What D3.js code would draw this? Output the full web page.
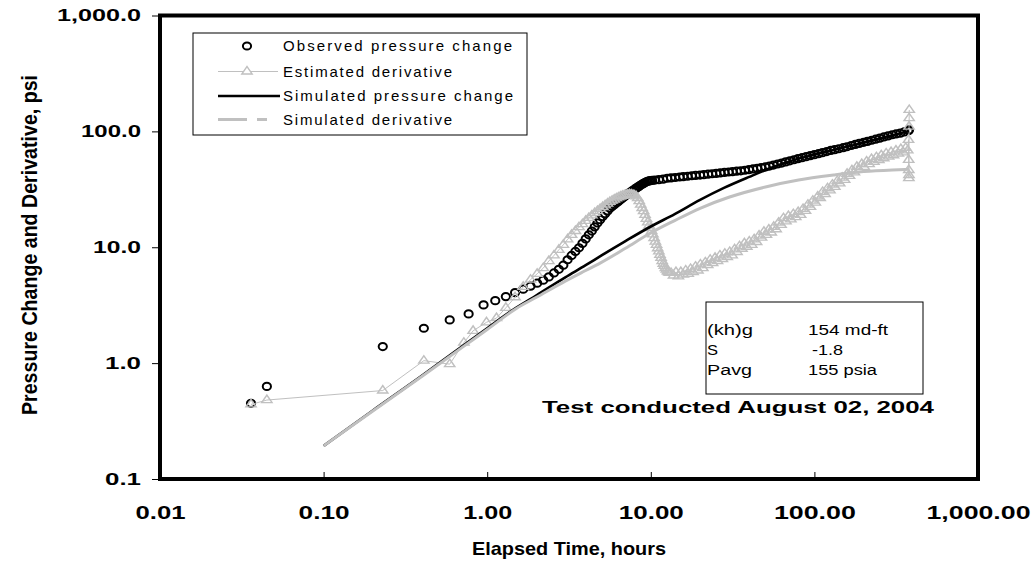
<!DOCTYPE html>
<html><head><meta charset="utf-8">
<script src="https://cdn.jsdelivr.net/npm/d3@7"></script>
<style>body{margin:0;background:#fff}svg{display:block}</style>
</head><body>
<svg id="c" width="1033" height="569"></svg>
<script>
// ---------- data ----------
const obsT = [0.036,0.045,0.23,0.41,0.59,0.77,0.95,1.12,1.30,1.48,1.66,1.84,2.02,2.20,2.38,2.56,2.74,2.92,3.10,3.28,3.46,3.64,3.82,4.00,4.18,4.36,4.54,4.72,4.90,5.08,5.26,5.44,5.62,5.80,5.98,6.16,6.34,6.52,6.70,6.88,7.06,7.24,7.42,7.60,7.78,7.96,8.14,8.32,8.50,8.68,8.86,9.04,9.22,9.40,9.58,9.76,9.94,
  10.2,10.6,11.2,11.9,12.6,13.3,14.1,15.0,15.8,16.8,17.8,18.8,20.0,21.1,22.4,23.7,25.1,26.6,28.2,29.9,31.6,33.5,35.5,37.6,39.8,42.2,44.7,47.3,50.1,53.1,56.2,59.6,63.1,66.8,70.8,75.0,79.4,84.1,89.1,94.4,100,106,112,119,126,133,141,150,158,168,178,188,200,211,224,237,251,266,282,299,316,335,355,376,378];
const obsP = [0.45,0.63,1.39,2.0,2.36,2.66,3.18,3.46,3.75,4.06,4.35,4.62,4.9,5.2,5.55,6.0,6.45,7.0,7.8,8.5,9.2,9.9,10.8,11.8,12.8,13.8,15.0,16.2,17.3,18.4,19.5,20.6,21.7,22.5,23.3,24.1,24.9,25.7,26.5,27.3,28.1,28.9,29.6,30.3,31.0,31.7,32.4,33.0,33.7,34.4,35.0,35.6,36.2,36.7,37.1,37.4,37.6,
  37.8,38.0,38.3,38.7,39.4,39.7,40.0,40.4,40.7,41.0,41.4,41.7,42.0,42.3,42.7,43.1,43.4,43.8,44.2,44.6,44.9,45.3,45.7,46.2,46.8,47.4,48.0,48.7,49.3,50.2,51.2,52.3,53.3,54.5,55.7,56.9,58.2,59.3,60.5,61.8,63.0,64.2,65.5,67.0,68.5,69.5,70.8,72.3,73.7,75.5,77.2,78.8,80.5,82.0,83.8,85.6,87.5,89.5,91.5,93.5,95.0,96.5,99.0,101.5,103];

const derT = [0.036,0.045,0.23,0.41,0.59,0.72,0.82,0.99,1.14,1.30,1.48,1.66,1.84,2.02,2.20,2.38,2.56,2.74,2.92,3.10,3.28,3.46,3.64,3.82,4.00,4.18,4.36,4.54,4.72,4.90,5.08,5.26,5.44,5.62,5.80,5.98,6.16,6.34,6.52,6.70,6.88,7.06,7.24,7.42,7.60,7.78,7.96,8.14,8.32,8.50,8.68,8.86,9.04,9.22,9.40,9.58,9.76,9.94,10.12,10.30,10.48,10.66,10.84,11.02,11.20,11.38,11.56,11.74,11.92,12.10,12.28,12.46,12.64,12.82,13.00,
  13.30,13.77,14.25,14.75,15.26,15.80,16.35,16.92,17.51,18.13,18.76,19.42,20.10,20.80,21.53,22.28,23.06,23.87,24.70,25.57,26.46,27.39,28.35,29.34,30.37,31.43,32.53,33.67,34.85,36.07,37.33,38.64,39.99,41.39,42.84,44.34,45.89,47.50,49.16,50.88,52.66,54.50,56.41,58.39,60.43,62.55,64.74,67.00,69.35,71.78,74.29,76.89,79.58,82.37,85.25,88.23,91.32,94.52,97.83,101.3,104.8,108.5,112.3,116.2,120.3,124.5,128.8,133.3,138.0,142.8,147.8,153.0,158.4,163.9,169.6,175.6,181.7,188.1,194.7,201.5,208.5,215.8,223.4,231.2,239.3,247.7,256.3,265.3,274.6,284.2,294.2,304.5,315.1,326.2,337.6,349.4,361.6,372.0,
  376,377,377.5,378,378.5,379,379.5,380];
const derP = [0.44,0.48,0.58,1.05,0.98,1.5,1.9,2.25,2.45,3.0,3.7,4.55,5.25,5.9,6.6,7.6,8.5,9.5,10.5,11.7,12.8,13.8,14.9,15.8,16.9,17.9,18.8,19.7,20.5,21.4,22.2,23.0,23.8,24.6,25.2,25.8,26.4,26.9,27.4,27.8,28.1,28.3,28.5,28.6,28.5,28.3,28.0,27.5,26.5,25.0,23.3,21.8,20.5,19.0,17.6,16.4,15.4,14.6,13.8,12.9,12.0,11.2,10.5,9.8,9.2,8.6,8.1,7.6,7.2,6.9,6.6,6.4,6.2,6.1,6.0,
  6.0,5.7,6.1,5.6,6.1,5.8,6.3,5.9,6.5,6.1,6.8,6.3,7.1,6.6,7.4,7.0,7.8,7.3,8.1,7.6,8.5,7.9,8.8,8.2,9.1,8.5,9.6,9.1,10.2,9.7,10.8,10.1,11.2,10.5,11.7,11.1,12.6,12.1,13.6,12.8,14.2,13.4,15.0,14.3,16.3,15.6,17.8,16.7,18.6,17.4,19.3,18.2,20.1,19.0,21.4,20.6,23.3,22.3,25.2,24.3,27.4,26.5,30.0,28.8,32.3,31.0,34.7,33.2,37.3,35.5,39.8,38.2,43.0,41.3,46.1,44.2,49.4,46.8,52.2,49.4,54.9,52.2,57.7,54.5,59.9,56.6,62.2,58.6,64.5,60.5,66.2,62.2,68.3,64.2,70.3,65.8,71.9,68.5,
  84.5,56.8,46.4,39.5,42,110,130,153];

const simT = [0.1,0.2,0.4,0.68,1.0,1.5,2.0,3.0,4.0,5.0,7.0,10,14,20,28,40,53.5,65,81.6,100,131,160,209,260,334,378];
const simP = [0.193,0.39,0.78,1.35,2.0,3.0,3.85,5.5,7.0,8.5,11.3,15.1,19.3,25.6,32.5,40.5,48,53,58.6,63,69.2,74,81.5,88,96.3,101];

const simDT = [0.1,0.2,0.4,0.7,1.0,1.5,2.0,3.0,4.0,4.9,7.0,9.9,14,20,30,51,80,131,200,300,378];
const simDP = [0.193,0.386,0.77,1.36,1.95,2.95,3.7,5.1,6.3,7.3,9.8,13.2,17,21.7,27,33.3,38,42,45,46.5,47];

const xTicks = [0.01,0.1,1,10,100,1000];
const xTickLabels = ["0.01","0.10","1.00","10.00","100.00","1,000.00"];
const yTicks = [0.1,1,10,100,1000];
const yTickLabels = ["0.1","1.0","10.0","100.0","1,000.0"];
const legendLabels = ["Observed pressure change","Estimated derivative","Simulated pressure change","Simulated derivative"];
const infoLabels = ["(kh)g","S","Pavg"];
const infoValues = ["154 md-ft","-1.8","155 psia"];
const noteText = "Test conducted August 02, 2004";
const xTitle = "Elapsed Time, hours";
const yTitle = "Pressure Change and Derivative, psi";

// ---------- chart ----------
const GRAY = "#c0c0c0";
const svg = d3.select("#c");
const L = 160, R = 978, T = 15.5, B = 479;
const x = d3.scaleLog().domain([0.01, 1000]).range([L, R]);
const y = d3.scaleLog().domain([0.1, 1000]).range([B, T]);
const FONT = "'Liberation Sans', Arial, sans-serif";

const zip = (a, b) => a.map((v, i) => [v, b[i]]);
const obs = zip(obsT, obsP), der = zip(derT, derP), sim = zip(simT, simP), simD = zip(simDT, simDP);

const plot = svg.append("g");

// observed markers
plot.selectAll("ellipse.obs").data(obs).join("ellipse").attr("class","obs")
  .attr("cx", d => x(d[0])).attr("cy", d => y(d[1])).attr("rx", 4.1).attr("ry", 3.6)
  .attr("fill", "none").attr("stroke", "#000").attr("stroke-width", 2);

// estimated derivative
const lineStraight = d3.line().x(d => x(d[0])).y(d => y(d[1]));
plot.append("path").datum(der).attr("d", lineStraight)
  .attr("fill","none").attr("stroke",GRAY).attr("stroke-width",1);
const tri = d3.symbol().type(d3.symbolTriangle).size(32);
plot.selectAll("path.der").data(der).join("path").attr("class","der")
  .attr("d", tri).attr("transform", d => `translate(${x(d[0])},${y(d[1])}) scale(1.2,1)`)
  .attr("fill","none").attr("stroke",GRAY).attr("stroke-width",1.3);

// simulated lines
const lineSmooth = d3.line().x(d => x(d[0])).y(d => y(d[1])).curve(d3.curveMonotoneX);
plot.append("path").datum(sim).attr("d", lineSmooth)
  .attr("fill","none").attr("stroke","#000").attr("stroke-width",2.6);
plot.append("path").datum(simD).attr("d", lineSmooth)
  .attr("fill","none").attr("stroke",GRAY).attr("stroke-width",3);

// frame
svg.append("rect").attr("x", L).attr("y", T).attr("width", R - L).attr("height", B - T)
  .attr("fill","none").attr("stroke","#000").attr("stroke-width",4);

// axes
const xLabW = [50, 51, 49, 65, 82, 104];
const xAxis = d3.axisBottom(x).tickValues(xTicks)
  .tickFormat((d, i) => xTickLabels[i]).tickSizeInner(-7).tickSizeOuter(0).tickPadding(27);
const gx = svg.append("g").attr("transform", `translate(0,${B})`).call(xAxis);
gx.select(".domain").remove();
gx.selectAll(".tick line").attr("stroke","#000").attr("stroke-width",1);
gx.selectAll(".tick text").attr("font-family", FONT).attr("font-size", 18)
  .attr("font-weight","bold").attr("fill","#000")
  .attr("textLength", (d, i) => xLabW[i]).attr("lengthAdjust","spacingAndGlyphs");

const yLabW = [36, 36, 48, 60, 84];
const yAxis = d3.axisLeft(y).tickValues(yTicks)
  .tickFormat((d, i) => yTickLabels[i]).tickSizeInner(8).tickSizeOuter(0).tickPadding(11);
const gy = svg.append("g").attr("transform", `translate(${L},0)`).call(yAxis);
gy.select(".domain").remove();
gy.selectAll(".tick line").attr("stroke","#000").attr("stroke-width",1);
gy.selectAll(".tick text").attr("font-family", FONT).attr("font-size", 17)
  .attr("font-weight","bold").attr("fill","#000")
  .attr("textLength", (d, i) => yLabW[i]).attr("lengthAdjust","spacingAndGlyphs");

// titles
svg.append("text").attr("x", (L + R) / 2).attr("y", 555).attr("text-anchor","middle")
  .attr("font-family", FONT).attr("font-size", 19).attr("font-weight","bold")
  .attr("textLength", 194).attr("lengthAdjust","spacingAndGlyphs").text(xTitle);
svg.append("text").attr("transform", "translate(37,245) scale(1.25,1) rotate(-90)").attr("text-anchor","middle")
  .attr("font-family", FONT).attr("font-size", 17).attr("font-weight","bold")
  .attr("textLength", 340).attr("lengthAdjust","spacingAndGlyphs").text(yTitle);

// legend
const lg = svg.append("g");
lg.append("rect").attr("x",193).attr("y",33).attr("width",334).attr("height",102)
  .attr("fill","#fff").attr("stroke","#000").attr("stroke-width",1);
const rowY = [46, 71.5, 96, 119.5];
const textW = [229, 169, 230, 169];
lg.selectAll("text").data(legendLabels).join("text")
  .attr("x", 283).attr("y", (d, i) => rowY[i] + 5.3)
  .attr("font-family", FONT).attr("font-size", 15)
  .attr("textLength", (d, i) => textW[i]).text(d => d);
lg.append("ellipse").attr("cx",247).attr("cy",rowY[0]).attr("rx",4.1).attr("ry",3.6)
  .attr("fill","none").attr("stroke","#000").attr("stroke-width",2);
lg.append("line").attr("x1",218).attr("x2",278).attr("y1",rowY[1]).attr("y2",rowY[1])
  .attr("stroke",GRAY).attr("stroke-width",1);
lg.append("path").attr("d", tri).attr("transform",`translate(247,${rowY[1]}) scale(1.2,1)`)
  .attr("fill","#fff").attr("stroke",GRAY).attr("stroke-width",1.3);
lg.append("line").attr("x1",218).attr("x2",280).attr("y1",rowY[2]).attr("y2",rowY[2])
  .attr("stroke","#000").attr("stroke-width",2.6);
lg.append("line").attr("x1",218).attr("x2",270).attr("y1",rowY[3]).attr("y2",rowY[3])
  .attr("stroke",GRAY).attr("stroke-width",3).attr("stroke-dasharray","29,10,10,100");

// info box
const ib = svg.append("g");
ib.append("rect").attr("x",706).attr("y",302).attr("width",217).attr("height",92)
  .attr("fill","#fff").attr("stroke","#000").attr("stroke-width",1);
const infoY = [334.5, 354.5, 374.5];
const infoLW = [46, 11, 45];
const infoVW = [80, 31, 69];
ib.selectAll("text.l").data(infoLabels).join("text").attr("class","l")
  .attr("x",707).attr("y",(d,i)=>infoY[i]).attr("font-family",FONT).attr("font-size",14)
  .attr("textLength",(d,i)=>infoLW[i]).attr("lengthAdjust","spacingAndGlyphs").text(d=>d);
ib.selectAll("text.v").data(infoValues).join("text").attr("class","v")
  .attr("x",(d,i)=> i===1 ? 812 : 808).attr("y",(d,i)=>infoY[i]).attr("font-family",FONT).attr("font-size",14)
  .attr("textLength",(d,i)=>infoVW[i]).attr("lengthAdjust","spacingAndGlyphs").text(d=>d);

// note
svg.append("text").attr("x", 738).attr("y", 413).attr("text-anchor","middle")
  .attr("font-family", FONT).attr("font-size", 17).attr("font-weight","bold")
  .attr("textLength", 392).attr("lengthAdjust","spacingAndGlyphs").text(noteText);
</script>
</body></html>
